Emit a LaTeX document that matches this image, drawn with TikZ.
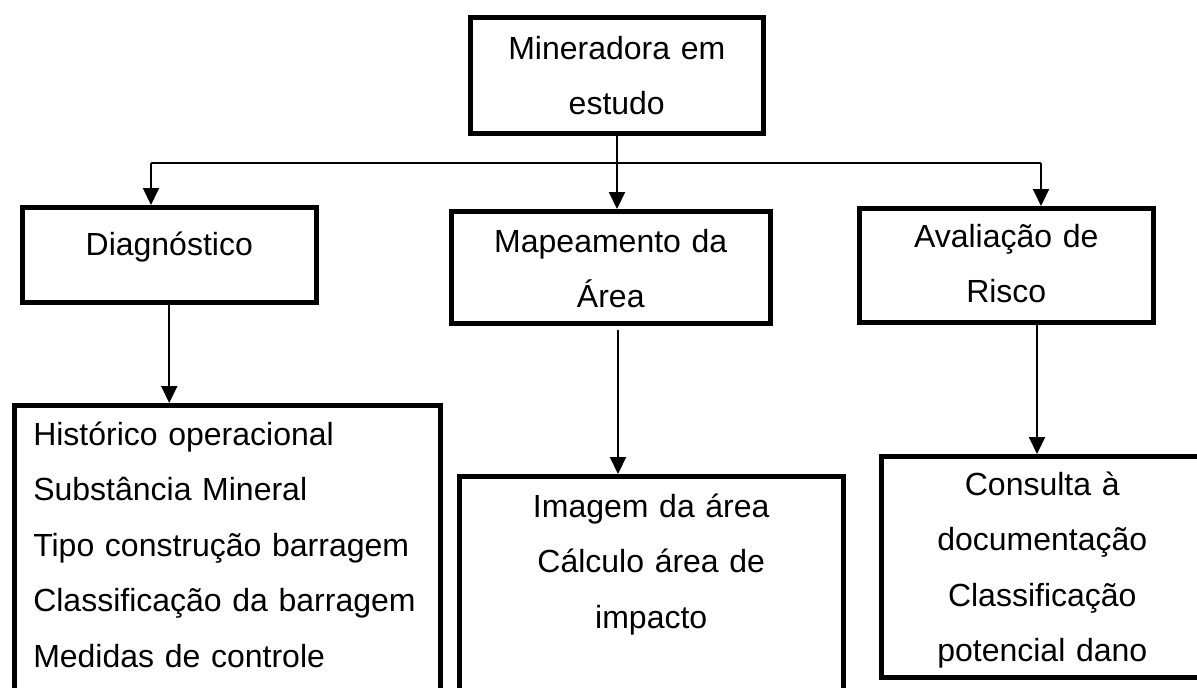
\documentclass[tikz,border=0pt]{standalone}
\usepackage{fontspec}
\setmainfont{Liberation Sans}
\usetikzlibrary{arrows.meta}

\begin{document}
\begin{tikzpicture}[x=0.5pt,y=-0.5pt,>={Triangle[length=8.5pt,width=8pt]},line width=1pt,
  box/.style={draw,line width=2.25pt,inner sep=0pt,anchor=north west,align=center,
    font={\fontsize{16pt}{27.75pt}\selectfont}}]

  \useasboundingbox (0,0) rectangle (1197,687);
  \clip (0,0) rectangle (1197,687);

  \node[box, text width=146.5pt, text height=21pt, text depth=37pt] (mina) at (468,15) {Mineradora em\\estudo};

  \node[box, text width=147pt, text height=24pt, text depth=23.5pt] (diag) at (20,205) {Diagnóstico};
  \node[box, text width=159.5pt, text height=20.5pt, text depth=35.5pt] (mapa) at (449,209) {Mapeamento da\\Área};
  \node[box, text width=147pt, text height=19.5pt, text depth=37.5pt] (aval) at (857,206) {Avaliação de\\Risco};

  \node[box, align=left, inner xsep=9.5pt, text width=194pt, text height=20pt, text depth=130pt] (hist) at (12,403)
    {Histórico operacional\\Substância Mineral\\Tipo construção barragem\\Classificação da barragem\\Medidas de controle};
  \node[box, text width=192pt, text height=20.5pt, text depth=97.5pt] (img) at (457,474)
    {Imagem da área\\Cálculo área de\\impacto};
  \node[box, text width=161pt, text height=19.5pt, text depth=91pt] (cons) at (879,454)
    {Consulta à\\documentação\\Classificação\\potencial dano};

  \coordinate (split) at (617,163);
  \coordinate (lsplit) at (151,163);
  \coordinate (rsplit) at (1041,163);
  \coordinate (mapdown) at (618,330);
  \coordinate (avaldown) at (1037,320);

  \draw (lsplit) -- (rsplit);
  \path[->]
    (mina.south -| split) edge (mapa.north -| split)
    (lsplit) edge (diag.north -| lsplit)
    (rsplit) edge (aval.north -| rsplit)
    (diag.south) edge (diag.south |- hist.north)
    (mapdown) edge (mapdown |- img.north)
    (avaldown) edge (avaldown |- cons.north);
\end{tikzpicture}
\end{document}
